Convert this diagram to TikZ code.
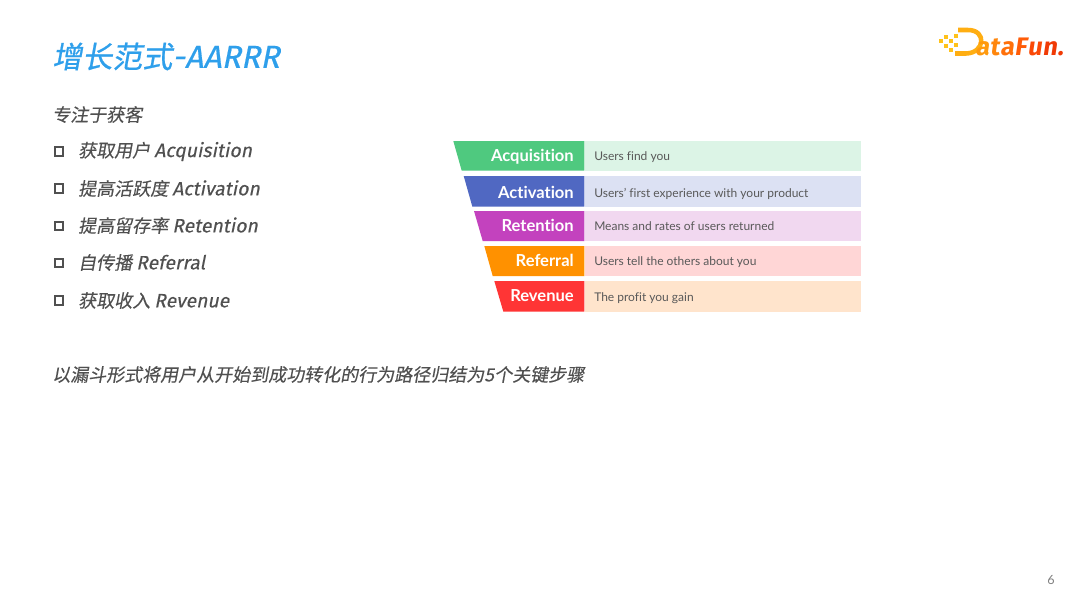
\documentclass[tikz,border=0pt]{standalone}
\usepackage{fontspec}
\setmainfont{Lato}
\newfontfamily\cjk[FakeSlant=0.18,FakeBold=0.25]{Noto Sans CJK SC}
\newfontfamily\cjkt[FakeSlant=0.18,FakeBold=0.7]{Noto Sans CJK SC}
\newfontfamily\latn[FakeSlant=0.2,FakeBold=0.2,Ligatures=NoCommon]{Fira Sans}
\newfontfamily\latnb[FakeSlant=0.2,FakeBold=0.5]{Fira Sans}
\newfontfamily\fun[Ligatures=NoCommon]{Lato}
\newfontfamily\funb[Ligatures=NoCommon]{Lato Bold}
\newfontfamily\logof[FakeSlant=0.15]{Fira Sans Bold}
\definecolor{ttl}{HTML}{2E9FEB}
\definecolor{bodyc}{HTML}{505050}
\definecolor{cA}{HTML}{4FC97F}\definecolor{pA}{HTML}{DCF4E6}
\definecolor{cB}{HTML}{5068C2}\definecolor{pB}{HTML}{DCE1F3}
\definecolor{cC}{HTML}{C342BE}\definecolor{pC}{HTML}{F1D8F0}
\definecolor{cD}{HTML}{FF9100}\definecolor{pD}{HTML}{FFD6D6}
\definecolor{cE}{HTML}{FF3535}\definecolor{pE}{HTML}{FFE4CC}
\definecolor{lg1}{HTML}{FFC21A}\definecolor{lg2}{HTML}{FFAE12}
\definecolor{lg3}{HTML}{FF9A0E}\definecolor{lg4}{HTML}{FF860C}
\definecolor{lg5}{HTML}{FF700A}\definecolor{lg6}{HTML}{FF5C08}
\definecolor{lg7}{HTML}{FA4806}\definecolor{lg8}{HTML}{F03A05}
\tikzset{
 x=0.75pt,y=-0.75pt,
 bodytext/.style={anchor=west,inner sep=0pt,text=bodyc,font=\cjk\fontsize{13.5}{16}\selectfont},
 bul/.style={draw=bodyc,line width=1.3pt,minimum size=6.4pt,inner sep=0pt,fill=white},
 lab/.style={anchor=base east,inner sep=0pt,text=white,font=\funb\fontsize{12.4}{14}\selectfont},
 desc/.style={anchor=base west,inner sep=0pt,text=black!65,font=\fun\fontsize{9}{11}\selectfont},
 sq/.style={inner sep=0pt,minimum size=3.6pt,fill=lg1},
 logotext/.style={anchor=base west,inner sep=0pt,font=\logof\fontsize{19}{21}\selectfont},
}
\newcommand{\lt}[1]{{\latn\fontsize{14.5}{16}\selectfont #1}}
% #1 label, #2 left top, #3 left bottom, #4 top, #5 bottom, #6 label baseline, #7 description baseline, #8 description, #9 colour key
\newcommand{\funnelrow}[9]{%
 \fill[c#9] (#2,#4) -- (584.3,#4) -- (584.3,#5) -- (#3,#5) -- cycle;
 \fill[p#9] (585,#4) rectangle (861,#5);
 \node[lab] (l#9) at (574,#6) {#1};
 \node[desc] (d#9) at (594,#7) {#8};
}
\begin{document}
\begin{tikzpicture}
\useasboundingbox (0,0) rectangle (1080,608);
\fill[white] (0,0) rectangle (1080,608);
\node[anchor=west,inner sep=0pt,text=ttl] (title) at (52,56.5)
  {\fontsize{22.5}{26}\selectfont\cjkt 增长范式{\latnb\fontsize{24}{26}\selectfont -AARRR}};
\node[bodytext] (intro) at (52,114.5) {专注于获客};
\node[bul] (b1) at (59,151.5) {};
\node[bodytext] (t1) at (78,151.5) {获取用户 \lt{Acquisition}};
\node[bul] (b2) at (59,188.5) {};
\node[bodytext] (t2) at (78,188.5) {提高活跃度 \lt{Activation}};
\node[bul] (b3) at (59,226) {};
\node[bodytext] (t3) at (78,225.5) {提高留存率 \lt{Retention}};
\node[bul] (b4) at (59,263) {};
\node[bodytext] (t4) at (78,262.5) {自传播 \lt{Referral}};
\node[bul] (b5) at (59,300.5) {};
\node[bodytext] (t5) at (78,300.5) {获取收入 \lt{Revenue}};
\node[bodytext] (foot) at (52,374.5) {以漏斗形式将用户从开始到成功转化的行为路径归结为5个关键步骤};
\funnelrow{Acquisition}{453.3}{461.7}{141}{170.7}{161}{160}{Users find you}{A}
\funnelrow{Activation}{463.7}{472.3}{176}{206.5}{198}{197}{Users’ first experience with your product}{B}
\funnelrow{Retention}{474}{482.7}{211}{241}{231}{230}{Means and rates of users returned}{C}
\funnelrow{Referral}{484.3}{492.7}{246}{276}{266}{265}{Users tell the others about you}{D}
\funnelrow{Revenue}{494.3}{503.3}{281}{311.5}{301.5}{301}{The profit you gain}{E}
% logo
\foreach \px/\py in {941/41,946/37,946/46,951/41,951/50,956/36,956/45}{
  \node[sq] at (\px,\py) {};
}
\draw[lg2,line width=3.4pt,line join=round]
  (958,30) -- (968,30) .. controls (987,30) and (985,53) .. (966,53.5) -- (955,53.5);
\node[logotext,text=lg3] (la) at (975,55) {a};
\node[logotext,text=lg4] (lt) at (la.base east) {t};
\node[logotext,text=lg5] (lb) at (lt.base east) {a};
\node[logotext,text=lg6] (lf) at (lb.base east) {F};
\node[logotext,text=lg7] (lu) at (lf.base east) {u};
\node[logotext,text=lg8] (ln) at (lu.base east) {n};
\node[logotext,text=lg8] (ld) at (ln.base east) {.};
\node[inner sep=0pt,text=black!50,font=\fun\fontsize{9.5}{11}\selectfont] (page) at (1051,580) {6};
\end{tikzpicture}
\end{document}
